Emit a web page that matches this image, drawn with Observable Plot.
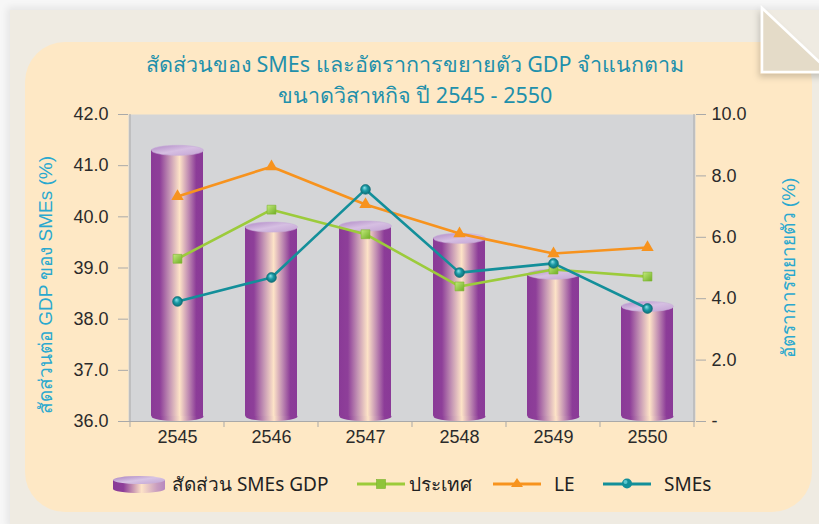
<!DOCTYPE html>
<html><head><meta charset="utf-8">
<script src="https://cdn.jsdelivr.net/npm/d3@7"></script>
<script src="https://cdn.jsdelivr.net/npm/@observablehq/plot@0.6"></script>
<style>
body{margin:0;background:#f7f7f7;}
#page{position:relative;width:819px;height:524px;overflow:hidden;font-family:"Liberation Sans Narrow","Noto Sans","DejaVu Sans",sans-serif;}
#outer{position:absolute;left:10px;top:10px;width:820px;height:520px;background:#efebe2;box-shadow:-3px -3px 7px rgba(0,0,0,0.07);}
#panel{position:absolute;left:25px;top:42px;width:787px;height:470px;background:#fee8c5;border-radius:40px;}
#fold{position:absolute;left:740px;top:0;}
#title{position:absolute;left:0;top:48px;width:830px;text-align:center;color:#1f90ab;font-size:21.5px;line-height:31px;}
#chart{position:absolute;left:0;top:100px;}
.lg{position:absolute;font-size:19px;line-height:20px;top:474px;color:#222;white-space:nowrap;}
.lgs{position:absolute;top:475px;}
</style></head>
<body>
<div id="page">
  <div id="outer"></div>
  <div id="panel"></div>
  <svg id="fold" width="79" height="90">
    <defs><filter id="fsh" x="-30%" y="-30%" width="160%" height="160%"><feDropShadow dx="-2" dy="4" stdDeviation="3" flood-color="#000" flood-opacity="0.18"/></filter></defs>
    <polygon points="22,8 22,72 90,72" fill="#e4dbc8" stroke="#fff" stroke-width="2.5" filter="url(#fsh)"/>
  </svg>
  <div id="title"></div>
  <div id="chart"></div>
  <div id="legend"></div>
</div>
<script>
// ---- data ----
const years = ["2545", "2546", "2547", "2548", "2549", "2550"];
const smeShare = [41.3, 39.8, 39.82, 39.58, 38.88, 38.25];      // left axis (%)
const growthCountry = [5.3, 6.9, 6.1, 4.4, 4.95, 4.72];          // right axis (%)
const growthLE = [7.33, 8.3, 7.07, 6.12, 5.47, 5.67];
const growthSME = [3.91, 4.69, 7.56, 4.85, 5.15, 3.68];
const leftTicks = [36, 37, 38, 39, 40, 41, 42];
const rightTicks = [0, 2, 4, 6, 8, 10];
const rightTickLabels = ["-", "2.0", "4.0", "6.0", "8.0", "10.0"];
const titleLines = ["สัดส่วนของ SMEs และอัตราการขยายตัว GDP จำแนกตาม", "ขนาดวิสาหกิจ ปี 2545 - 2550"];
const leftTitle = "สัดส่วนต่อ GDP ของ SMEs (%)";
const rightTitle = "อัตราการขยายตัว (%)";
const seriesNames = ["สัดส่วน SMEs GDP", "ประเทศ", "LE", "SMEs"];

// right axis (0..10) mapped onto left axis domain (36..42)
const leftMin = 36, leftMax = 42, rightMax = 10;
const toLeft = v => leftMin + v * (leftMax - leftMin) / rightMax;

const bars = years.map((y, i) => ({year: y, value: smeShare[i]}));
const lineData = (arr, name) => years.map((y, i) => ({year: y, value: toLeft(arr[i]), series: name}));
const country = lineData(growthCountry, seriesNames[1]);
const le = lineData(growthLE, seriesNames[2]);
const sme = lineData(growthSME, seriesNames[3]);

document.getElementById("title").innerHTML = titleLines.join("<br>");

function ellipseSymbol(rx, ry) {
  const k = 0.5523;
  return {draw(ctx) {
    ctx.moveTo(rx, 0);
    ctx.bezierCurveTo(rx, ry * k, rx * k, ry, 0, ry);
    ctx.bezierCurveTo(-rx * k, ry, -rx, ry * k, -rx, 0);
    ctx.bezierCurveTo(-rx, -ry * k, -rx * k, -ry, 0, -ry);
    ctx.bezierCurveTo(rx * k, -ry, rx, -ry * k, rx, 0);
    ctx.closePath();
  }};
}

const defsHTML = `
<linearGradient id="cyl" x1="0" x2="1" y1="0" y2="0">
  <stop offset="0" stop-color="#8a3a97"/><stop offset="0.17" stop-color="#8e3f99"/>
  <stop offset="0.36" stop-color="#c495b4"/><stop offset="0.55" stop-color="#fde3c7"/>
  <stop offset="0.72" stop-color="#c08cb2"/><stop offset="0.87" stop-color="#8c3c98"/>
  <stop offset="1" stop-color="#8a3a97"/></linearGradient>
<linearGradient id="cyltop" x1="0" x2="1" y1="0" y2="1">
  <stop offset="0" stop-color="#b08ac6"/><stop offset="0.5" stop-color="#d6bfe2"/><stop offset="1" stop-color="#c3a3d4"/></linearGradient>
<radialGradient id="ball" cx="0.5" cy="0.5" r="0.6" fx="0.38" fy="0.32">
  <stop offset="0" stop-color="#8fe3ea"/><stop offset="0.45" stop-color="#1a99a4"/><stop offset="1" stop-color="#0b636c"/></radialGradient>
<linearGradient id="sq" x1="0" x2="1" y1="0" y2="1">
  <stop offset="0" stop-color="#c3ea7c"/><stop offset="1" stop-color="#6fae25"/></linearGradient>`;

const defsMark = () => {
  const g = document.createElementNS("http://www.w3.org/2000/svg", "defs");
  g.innerHTML = defsHTML;
  return g;
};

const gridTicks = (index, scales, values, dims) => {
  const x = scales.x, y = scales.y;
  const bw = x.bandwidth ? x.bandwidth() : (dims.width - dims.marginLeft - dims.marginRight) / years.length;
  const xs = years.map(d => x(d)).concat([x(years[years.length - 1]) + bw]);
  const y0 = y(leftMin), y1 = y(leftMax);
  const g = d3.create("svg:g").attr("stroke", "#a9a9a9").attr("stroke-width", 1).attr("fill", "none");
  xs.forEach(xx => g.append("line").attr("x1", xx).attr("x2", xx).attr("y1", y0).attr("y2", y0 + 6));
  g.append("line").attr("x1", xs[0]).attr("x2", xs[0]).attr("y1", y1).attr("y2", y0);
  g.append("line").attr("x1", xs[xs.length - 1]).attr("x2", xs[xs.length - 1]).attr("y1", y1).attr("y2", y0);
  return g.node();
};

const base = 36.1;
const rightLabelMap = new Map(rightTicks.map((v, i) => [toLeft(v), rightTickLabels[i]]));

const chart = Plot.plot({
  width: 819,
  height: 370,
  marginLeft: 128,
  marginRight: 124,
  marginTop: 14,
  marginBottom: 49,
  style: {background: "transparent", fontSize: "17px", fontFamily: "'Liberation Sans Narrow','Liberation Sans',sans-serif", color: "#2b2b2b"},
  x: {domain: years, padding: 0, axis: null},
  y: {domain: [leftMin, leftMax], axis: null},
  marks: [
    defsMark,
    Plot.frame({fill: "#d4d5d7", stroke: null}),
    Plot.ruleY([leftMin], {stroke: "#a9a9a9"}),
    gridTicks,
    Plot.axisY(leftTicks, {anchor: "left", tickFormat: d3.format(".1f"), tickSize: 10, tickPadding: 10, stroke: "#a9a9a9", fill: "#2b2b2b", fontSize: 18, label: null}),
    Plot.axisY(rightTicks.map(toLeft), {anchor: "right", tickFormat: d => rightLabelMap.get(d), tickSize: 10, tickPadding: 6, stroke: "#a9a9a9", fill: "#2b2b2b", fontSize: 18, label: null}),
    Plot.axisX(years, {tickSize: 0, tickPadding: 9, fontSize: 18, fill: "#2b2b2b", label: null}),
    Plot.text([leftTitle], {text: d => d, frameAnchor: "left", textAnchor: "middle", dx: -83, dy: 17, rotate: -90, fill: "#2aa8cf", fontSize: 19}),
    Plot.text([rightTitle], {text: d => d, frameAnchor: "right", textAnchor: "middle", dx: 93, dy: 0, rotate: -90, fill: "#2aa8cf", fontSize: 19}),
    // cylinders
    Plot.dot(bars, {x: "year", y: () => base, symbol: ellipseSymbol(26, 4.6), fill: "url(#cyl)", stroke: null}),
    Plot.barY(bars, {x: "year", y1: () => base, y2: "value", fill: "url(#cyl)", insetLeft: 21, insetRight: 21}),
    Plot.dot(bars, {x: "year", y: "value", symbol: ellipseSymbol(26, 5), fill: "url(#cyltop)", stroke: "#c8aed8", strokeWidth: 0.6}),
    // lines
    Plot.line(country, {x: "year", y: "value", stroke: "#9ccb3b", strokeWidth: 2.6}),
    Plot.line(le, {x: "year", y: "value", stroke: "#f7931e", strokeWidth: 2.6}),
    Plot.line(sme, {x: "year", y: "value", stroke: "#138f9a", strokeWidth: 2.6}),
    Plot.dot(country, {x: "year", y: "value", symbol: "square", r: 5, fill: "url(#sq)", stroke: "#7cb62e", strokeWidth: 0.6}),
    Plot.dot(le, {x: "year", y: "value", symbol: "triangle", r: 4.6, fill: "#f7931e", stroke: null}),
    Plot.dot(sme, {x: "year", y: "value", r: 4.9, fill: "url(#ball)", stroke: "#0c6a73", strokeWidth: 0.6})
  ]
});
document.getElementById("chart").appendChild(chart);

// legend
const lg = document.getElementById("legend");
lg.innerHTML = `
<svg class="lgs" style="left:112px" width="56" height="20">
  <defs>
  <linearGradient id="lcyl" x1="0" x2="1"><stop offset="0" stop-color="#8a3a97"/><stop offset="0.2" stop-color="#8e3f99"/><stop offset="0.55" stop-color="#fde3c7"/><stop offset="0.85" stop-color="#c89cbf"/><stop offset="1" stop-color="#b688bf"/></linearGradient>
  <linearGradient id="ltop" x1="0" x2="1" y1="0" y2="1"><stop offset="0" stop-color="#a77fc0"/><stop offset="0.5" stop-color="#d8c4e4"/><stop offset="1" stop-color="#c0a2d2"/></linearGradient>
  </defs>
  <ellipse cx="27" cy="14" rx="26" ry="4" fill="url(#lcyl)"/>
  <rect x="1" y="5" width="52" height="9" fill="url(#lcyl)"/>
  <ellipse cx="27" cy="5" rx="26" ry="4" fill="url(#ltop)"/>
</svg>
<span class="lg" style="left:172px">${seriesNames[0]}</span>
<svg class="lgs" style="left:356px" width="50" height="20"><line x1="1" x2="49" y1="9" y2="9" stroke="#9ccb3b" stroke-width="2.8"/><rect x="20.5" y="4.5" width="9" height="9" fill="#8fc43a" stroke="#78b22c" stroke-width="0.6"/></svg>
<span class="lg" style="left:409px">${seriesNames[1]}</span>
<svg class="lgs" style="left:492px" width="50" height="20"><line x1="1" x2="49" y1="9" y2="9" stroke="#f7931e" stroke-width="2.8"/><polygon points="25,3 31,12 19,12" fill="#f7931e"/></svg>
<span class="lg" style="left:554px">${seriesNames[2]}</span>
<svg class="lgs" style="left:602px" width="50" height="20"><line x1="1" x2="49" y1="9" y2="9" stroke="#138f9a" stroke-width="2.8"/><circle cx="25" cy="8.5" r="5" fill="#138f9a"/><circle cx="23.5" cy="7" r="2" fill="#6fd3db" opacity="0.8"/></svg>
<span class="lg" style="left:664px">${seriesNames[3]}</span>`;
</script>
</body></html>
